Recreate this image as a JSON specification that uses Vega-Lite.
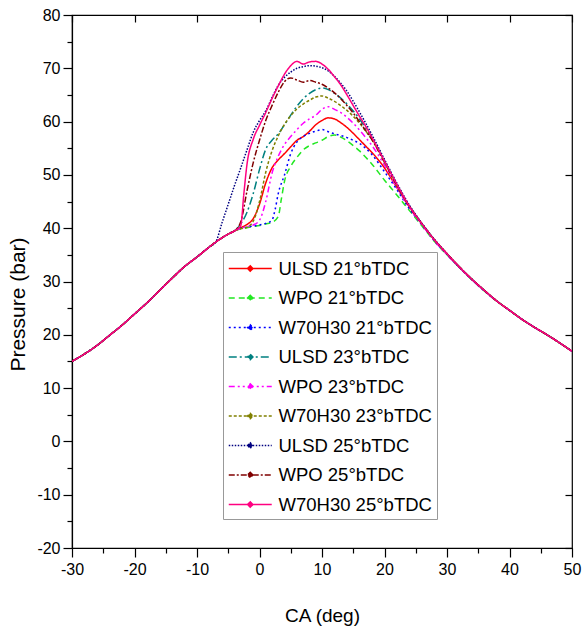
{
"$schema":"https://vega.github.io/schema/vega-lite/v6.json",
"width":500,"height":533,
"autosize":{"type":"none"},
"padding":{"left":72,"top":15,"right":11,"bottom":82},
"config":{"font":"Liberation Sans","view":{"stroke":"black","strokeWidth":1.2},
"axis":{"grid":false,"domainColor":"black","tickColor":"black","labelColor":"black","titleColor":"black","titleFontWeight":"normal","labelFontSize":16,"domainWidth":1.2,"tickWidth":1.2,"labelOverlap":false,"labelFlush":false}},
"datasets":{"d":[
{"s":"ULSD 21°bTDC","x":-30,"p":15},{"s":"ULSD 21°bTDC","x":-28,"p":16.4},{"s":"ULSD 21°bTDC","x":-26,"p":18},{"s":"ULSD 21°bTDC","x":-24,"p":19.9},{"s":"ULSD 21°bTDC","x":-22,"p":21.8},{"s":"ULSD 21°bTDC","x":-20,"p":23.9},{"s":"ULSD 21°bTDC","x":-18,"p":26},{"s":"ULSD 21°bTDC","x":-16,"p":28.3},{"s":"ULSD 21°bTDC","x":-14,"p":30.6},{"s":"ULSD 21°bTDC","x":-12,"p":32.8},{"s":"ULSD 21°bTDC","x":-10,"p":34.6},{"s":"ULSD 21°bTDC","x":-8,"p":36.5},{"s":"ULSD 21°bTDC","x":-7,"p":37.4},{"s":"ULSD 21°bTDC","x":-6,"p":38.2},{"s":"ULSD 21°bTDC","x":-5,"p":38.9},{"s":"ULSD 21°bTDC","x":-4,"p":39.5},
{"s":"ULSD 21°bTDC","x":-3,"p":40.1},{"s":"ULSD 21°bTDC","x":-2,"p":40.7},{"s":"ULSD 21°bTDC","x":-1,"p":41.8},{"s":"ULSD 21°bTDC","x":0,"p":44.5},{"s":"ULSD 21°bTDC","x":1,"p":48.5},{"s":"ULSD 21°bTDC","x":2,"p":51.3},{"s":"ULSD 21°bTDC","x":3,"p":52.8},{"s":"ULSD 21°bTDC","x":4,"p":54},{"s":"ULSD 21°bTDC","x":5,"p":55.3},{"s":"ULSD 21°bTDC","x":6,"p":56.5},{"s":"ULSD 21°bTDC","x":7,"p":57.2},{"s":"ULSD 21°bTDC","x":8,"p":58.2},{"s":"ULSD 21°bTDC","x":9,"p":59.4},{"s":"ULSD 21°bTDC","x":10,"p":60.2},{"s":"ULSD 21°bTDC","x":11,"p":60.7},{"s":"ULSD 21°bTDC","x":12,"p":60.5},{"s":"ULSD 21°bTDC","x":13,"p":59.8},{"s":"ULSD 21°bTDC","x":14,"p":58.9},{"s":"ULSD 21°bTDC","x":15,"p":57.8},{"s":"ULSD 21°bTDC","x":16,"p":56.6},{"s":"ULSD 21°bTDC","x":17,"p":55.4},{"s":"ULSD 21°bTDC","x":18,"p":54.2},{"s":"ULSD 21°bTDC","x":20,"p":51.3},{"s":"ULSD 21°bTDC","x":22,"p":47.6},{"s":"ULSD 21°bTDC","x":24,"p":44.1},
{"s":"ULSD 21°bTDC","x":26,"p":40.8},{"s":"ULSD 21°bTDC","x":28,"p":37.8},{"s":"ULSD 21°bTDC","x":30,"p":35.2},{"s":"ULSD 21°bTDC","x":32,"p":32.7},{"s":"ULSD 21°bTDC","x":34,"p":30.4},{"s":"ULSD 21°bTDC","x":36,"p":28.3},{"s":"ULSD 21°bTDC","x":38,"p":26.3},{"s":"ULSD 21°bTDC","x":40,"p":24.6},{"s":"ULSD 21°bTDC","x":42,"p":22.9},{"s":"ULSD 21°bTDC","x":44,"p":21.4},{"s":"ULSD 21°bTDC","x":46,"p":20},{"s":"ULSD 21°bTDC","x":48,"p":18.5},{"s":"ULSD 21°bTDC","x":50,"p":16.9},

{"s":"WPO 21°bTDC","x":-30,"p":15},{"s":"WPO 21°bTDC","x":-28,"p":16.4},{"s":"WPO 21°bTDC","x":-26,"p":18},{"s":"WPO 21°bTDC","x":-24,"p":19.9},{"s":"WPO 21°bTDC","x":-22,"p":21.8},{"s":"WPO 21°bTDC","x":-20,"p":23.9},{"s":"WPO 21°bTDC","x":-18,"p":26},{"s":"WPO 21°bTDC","x":-16,"p":28.3},{"s":"WPO 21°bTDC","x":-14,"p":30.6},{"s":"WPO 21°bTDC","x":-12,"p":32.8},{"s":"WPO 21°bTDC","x":-10,"p":34.6},{"s":"WPO 21°bTDC","x":-8,"p":36.5},{"s":"WPO 21°bTDC","x":-7,"p":37.4},{"s":"WPO 21°bTDC","x":-6,"p":38.2},{"s":"WPO 21°bTDC","x":-5,"p":38.9},{"s":"WPO 21°bTDC","x":-4,"p":39.5},
{"s":"WPO 21°bTDC","x":-3,"p":39.9},{"s":"WPO 21°bTDC","x":-2,"p":40.1},{"s":"WPO 21°bTDC","x":-1,"p":40.3},{"s":"WPO 21°bTDC","x":0,"p":40.5},{"s":"WPO 21°bTDC","x":1,"p":40.8},{"s":"WPO 21°bTDC","x":2,"p":41.1},{"s":"WPO 21°bTDC","x":3,"p":42.2},{"s":"WPO 21°bTDC","x":3.5,"p":45.5},{"s":"WPO 21°bTDC","x":4,"p":48.8},{"s":"WPO 21°bTDC","x":5,"p":51.6},{"s":"WPO 21°bTDC","x":6,"p":53.3},{"s":"WPO 21°bTDC","x":7,"p":54.7},{"s":"WPO 21°bTDC","x":8,"p":55.5},{"s":"WPO 21°bTDC","x":9,"p":56},{"s":"WPO 21°bTDC","x":10,"p":56.5},{"s":"WPO 21°bTDC","x":11,"p":57.2},{"s":"WPO 21°bTDC","x":12,"p":57.5},{"s":"WPO 21°bTDC","x":13,"p":57.1},{"s":"WPO 21°bTDC","x":14,"p":56.4},{"s":"WPO 21°bTDC","x":15,"p":55.5},{"s":"WPO 21°bTDC","x":16,"p":54.5},{"s":"WPO 21°bTDC","x":17,"p":53.3},{"s":"WPO 21°bTDC","x":18,"p":52},{"s":"WPO 21°bTDC","x":20,"p":49},{"s":"WPO 21°bTDC","x":22,"p":46.2},{"s":"WPO 21°bTDC","x":24,"p":43.3},
{"s":"WPO 21°bTDC","x":26,"p":40.4},{"s":"WPO 21°bTDC","x":28,"p":37.5},{"s":"WPO 21°bTDC","x":30,"p":35},{"s":"WPO 21°bTDC","x":32,"p":32.6},{"s":"WPO 21°bTDC","x":34,"p":30.3},{"s":"WPO 21°bTDC","x":36,"p":28.2},{"s":"WPO 21°bTDC","x":38,"p":26.3},{"s":"WPO 21°bTDC","x":40,"p":24.6},{"s":"WPO 21°bTDC","x":42,"p":22.9},{"s":"WPO 21°bTDC","x":44,"p":21.4},{"s":"WPO 21°bTDC","x":46,"p":20},{"s":"WPO 21°bTDC","x":48,"p":18.5},{"s":"WPO 21°bTDC","x":50,"p":16.9},

{"s":"W70H30 21°bTDC","x":-30,"p":15},{"s":"W70H30 21°bTDC","x":-28,"p":16.4},{"s":"W70H30 21°bTDC","x":-26,"p":18},{"s":"W70H30 21°bTDC","x":-24,"p":19.9},{"s":"W70H30 21°bTDC","x":-22,"p":21.8},{"s":"W70H30 21°bTDC","x":-20,"p":23.9},{"s":"W70H30 21°bTDC","x":-18,"p":26},{"s":"W70H30 21°bTDC","x":-16,"p":28.3},{"s":"W70H30 21°bTDC","x":-14,"p":30.6},{"s":"W70H30 21°bTDC","x":-12,"p":32.8},{"s":"W70H30 21°bTDC","x":-10,"p":34.6},{"s":"W70H30 21°bTDC","x":-8,"p":36.5},{"s":"W70H30 21°bTDC","x":-7,"p":37.4},{"s":"W70H30 21°bTDC","x":-6,"p":38.2},{"s":"W70H30 21°bTDC","x":-5,"p":38.9},{"s":"W70H30 21°bTDC","x":-4,"p":39.5},
{"s":"W70H30 21°bTDC","x":-3,"p":40},{"s":"W70H30 21°bTDC","x":-2,"p":40.2},{"s":"W70H30 21°bTDC","x":-1,"p":40.4},{"s":"W70H30 21°bTDC","x":0,"p":40.6},{"s":"W70H30 21°bTDC","x":1,"p":40.9},{"s":"W70H30 21°bTDC","x":2,"p":41.5},{"s":"W70H30 21°bTDC","x":2.5,"p":43.5},{"s":"W70H30 21°bTDC","x":3,"p":46.5},{"s":"W70H30 21°bTDC","x":4,"p":50},{"s":"W70H30 21°bTDC","x":5,"p":54},{"s":"W70H30 21°bTDC","x":6,"p":56.2},{"s":"W70H30 21°bTDC","x":7,"p":57.2},{"s":"W70H30 21°bTDC","x":8,"p":57.8},{"s":"W70H30 21°bTDC","x":9,"p":58.2},{"s":"W70H30 21°bTDC","x":10,"p":58.5},{"s":"W70H30 21°bTDC","x":11,"p":58.1},{"s":"W70H30 21°bTDC","x":12,"p":57.7},{"s":"W70H30 21°bTDC","x":13,"p":57.4},{"s":"W70H30 21°bTDC","x":14,"p":57},{"s":"W70H30 21°bTDC","x":15,"p":56.5},{"s":"W70H30 21°bTDC","x":16,"p":55.9},{"s":"W70H30 21°bTDC","x":17,"p":55},{"s":"W70H30 21°bTDC","x":18,"p":53.8},{"s":"W70H30 21°bTDC","x":20,"p":50.6},{"s":"W70H30 21°bTDC","x":22,"p":47.2},{"s":"W70H30 21°bTDC","x":24,"p":43.6},
{"s":"W70H30 21°bTDC","x":26,"p":40.6},{"s":"W70H30 21°bTDC","x":28,"p":37.6},{"s":"W70H30 21°bTDC","x":30,"p":35.1},{"s":"W70H30 21°bTDC","x":32,"p":32.6},{"s":"W70H30 21°bTDC","x":34,"p":30.3},{"s":"W70H30 21°bTDC","x":36,"p":28.2},{"s":"W70H30 21°bTDC","x":38,"p":26.3},{"s":"W70H30 21°bTDC","x":40,"p":24.6},{"s":"W70H30 21°bTDC","x":42,"p":22.9},{"s":"W70H30 21°bTDC","x":44,"p":21.4},{"s":"W70H30 21°bTDC","x":46,"p":20},{"s":"W70H30 21°bTDC","x":48,"p":18.5},{"s":"W70H30 21°bTDC","x":50,"p":16.9},

{"s":"ULSD 23°bTDC","x":-30,"p":15},{"s":"ULSD 23°bTDC","x":-28,"p":16.4},{"s":"ULSD 23°bTDC","x":-26,"p":18},{"s":"ULSD 23°bTDC","x":-24,"p":19.9},{"s":"ULSD 23°bTDC","x":-22,"p":21.8},{"s":"ULSD 23°bTDC","x":-20,"p":23.9},{"s":"ULSD 23°bTDC","x":-18,"p":26},{"s":"ULSD 23°bTDC","x":-16,"p":28.3},{"s":"ULSD 23°bTDC","x":-14,"p":30.6},{"s":"ULSD 23°bTDC","x":-12,"p":32.8},{"s":"ULSD 23°bTDC","x":-10,"p":34.6},{"s":"ULSD 23°bTDC","x":-8,"p":36.5},{"s":"ULSD 23°bTDC","x":-7,"p":37.4},{"s":"ULSD 23°bTDC","x":-6,"p":38.2},{"s":"ULSD 23°bTDC","x":-5,"p":38.9},{"s":"ULSD 23°bTDC","x":-4,"p":39.5},
{"s":"ULSD 23°bTDC","x":-3,"p":40.8},{"s":"ULSD 23°bTDC","x":-2,"p":43},{"s":"ULSD 23°bTDC","x":-1,"p":46.5},{"s":"ULSD 23°bTDC","x":0,"p":51},{"s":"ULSD 23°bTDC","x":1,"p":54.8},{"s":"ULSD 23°bTDC","x":2,"p":56.5},{"s":"ULSD 23°bTDC","x":3,"p":57.7},{"s":"ULSD 23°bTDC","x":4,"p":59.4},{"s":"ULSD 23°bTDC","x":5,"p":61.2},{"s":"ULSD 23°bTDC","x":6,"p":62.9},{"s":"ULSD 23°bTDC","x":7,"p":64.3},{"s":"ULSD 23°bTDC","x":8,"p":65.3},{"s":"ULSD 23°bTDC","x":9,"p":66},{"s":"ULSD 23°bTDC","x":10,"p":66.3},{"s":"ULSD 23°bTDC","x":11,"p":66},{"s":"ULSD 23°bTDC","x":12,"p":65.3},{"s":"ULSD 23°bTDC","x":13,"p":64.4},{"s":"ULSD 23°bTDC","x":14,"p":63.3},{"s":"ULSD 23°bTDC","x":15,"p":62},{"s":"ULSD 23°bTDC","x":16,"p":60.5},{"s":"ULSD 23°bTDC","x":17,"p":58.8},{"s":"ULSD 23°bTDC","x":18,"p":57},{"s":"ULSD 23°bTDC","x":20,"p":52.6},{"s":"ULSD 23°bTDC","x":22,"p":48.1},{"s":"ULSD 23°bTDC","x":24,"p":44.1},
{"s":"ULSD 23°bTDC","x":26,"p":40.8},{"s":"ULSD 23°bTDC","x":28,"p":37.8},{"s":"ULSD 23°bTDC","x":30,"p":35.2},{"s":"ULSD 23°bTDC","x":32,"p":32.7},{"s":"ULSD 23°bTDC","x":34,"p":30.4},{"s":"ULSD 23°bTDC","x":36,"p":28.3},{"s":"ULSD 23°bTDC","x":38,"p":26.3},{"s":"ULSD 23°bTDC","x":40,"p":24.6},{"s":"ULSD 23°bTDC","x":42,"p":22.9},{"s":"ULSD 23°bTDC","x":44,"p":21.4},{"s":"ULSD 23°bTDC","x":46,"p":20},{"s":"ULSD 23°bTDC","x":48,"p":18.5},{"s":"ULSD 23°bTDC","x":50,"p":16.9},

{"s":"WPO 23°bTDC","x":-30,"p":15},{"s":"WPO 23°bTDC","x":-28,"p":16.4},{"s":"WPO 23°bTDC","x":-26,"p":18},{"s":"WPO 23°bTDC","x":-24,"p":19.9},{"s":"WPO 23°bTDC","x":-22,"p":21.8},{"s":"WPO 23°bTDC","x":-20,"p":23.9},{"s":"WPO 23°bTDC","x":-18,"p":26},{"s":"WPO 23°bTDC","x":-16,"p":28.3},{"s":"WPO 23°bTDC","x":-14,"p":30.6},{"s":"WPO 23°bTDC","x":-12,"p":32.8},{"s":"WPO 23°bTDC","x":-10,"p":34.6},{"s":"WPO 23°bTDC","x":-8,"p":36.5},{"s":"WPO 23°bTDC","x":-7,"p":37.4},{"s":"WPO 23°bTDC","x":-6,"p":38.2},{"s":"WPO 23°bTDC","x":-5,"p":38.9},{"s":"WPO 23°bTDC","x":-4,"p":39.5},
{"s":"WPO 23°bTDC","x":-3,"p":40},{"s":"WPO 23°bTDC","x":-2,"p":40.3},{"s":"WPO 23°bTDC","x":-1,"p":40.6},{"s":"WPO 23°bTDC","x":0,"p":41.5},{"s":"WPO 23°bTDC","x":1,"p":45},{"s":"WPO 23°bTDC","x":2,"p":50.3},{"s":"WPO 23°bTDC","x":3,"p":53.5},{"s":"WPO 23°bTDC","x":4,"p":55.7},{"s":"WPO 23°bTDC","x":5,"p":57.2},{"s":"WPO 23°bTDC","x":6,"p":58.5},{"s":"WPO 23°bTDC","x":7,"p":59.7},{"s":"WPO 23°bTDC","x":8,"p":60.5},{"s":"WPO 23°bTDC","x":9,"p":61.2},{"s":"WPO 23°bTDC","x":10,"p":62.3},{"s":"WPO 23°bTDC","x":11,"p":62.8},{"s":"WPO 23°bTDC","x":12,"p":62.3},{"s":"WPO 23°bTDC","x":13,"p":61.7},{"s":"WPO 23°bTDC","x":14,"p":60.8},{"s":"WPO 23°bTDC","x":15,"p":59.7},{"s":"WPO 23°bTDC","x":16,"p":58.4},{"s":"WPO 23°bTDC","x":17,"p":57},{"s":"WPO 23°bTDC","x":18,"p":55.5},{"s":"WPO 23°bTDC","x":20,"p":51.8},{"s":"WPO 23°bTDC","x":22,"p":47.6},{"s":"WPO 23°bTDC","x":24,"p":43.8},
{"s":"WPO 23°bTDC","x":26,"p":40.6},{"s":"WPO 23°bTDC","x":28,"p":37.6},{"s":"WPO 23°bTDC","x":30,"p":35},{"s":"WPO 23°bTDC","x":32,"p":32.6},{"s":"WPO 23°bTDC","x":34,"p":30.3},{"s":"WPO 23°bTDC","x":36,"p":28.2},{"s":"WPO 23°bTDC","x":38,"p":26.3},{"s":"WPO 23°bTDC","x":40,"p":24.6},{"s":"WPO 23°bTDC","x":42,"p":22.9},{"s":"WPO 23°bTDC","x":44,"p":21.4},{"s":"WPO 23°bTDC","x":46,"p":20},{"s":"WPO 23°bTDC","x":48,"p":18.5},{"s":"WPO 23°bTDC","x":50,"p":16.9},

{"s":"W70H30 23°bTDC","x":-30,"p":15},{"s":"W70H30 23°bTDC","x":-28,"p":16.4},{"s":"W70H30 23°bTDC","x":-26,"p":18},{"s":"W70H30 23°bTDC","x":-24,"p":19.9},{"s":"W70H30 23°bTDC","x":-22,"p":21.8},{"s":"W70H30 23°bTDC","x":-20,"p":23.9},{"s":"W70H30 23°bTDC","x":-18,"p":26},{"s":"W70H30 23°bTDC","x":-16,"p":28.3},{"s":"W70H30 23°bTDC","x":-14,"p":30.6},{"s":"W70H30 23°bTDC","x":-12,"p":32.8},{"s":"W70H30 23°bTDC","x":-10,"p":34.6},{"s":"W70H30 23°bTDC","x":-8,"p":36.5},{"s":"W70H30 23°bTDC","x":-7,"p":37.4},{"s":"W70H30 23°bTDC","x":-6,"p":38.2},{"s":"W70H30 23°bTDC","x":-5,"p":38.9},{"s":"W70H30 23°bTDC","x":-4,"p":39.5},
{"s":"W70H30 23°bTDC","x":-3,"p":39.9},{"s":"W70H30 23°bTDC","x":-2,"p":40.2},{"s":"W70H30 23°bTDC","x":-1,"p":41.3},{"s":"W70H30 23°bTDC","x":0,"p":45},{"s":"W70H30 23°bTDC","x":1,"p":50.5},{"s":"W70H30 23°bTDC","x":2,"p":54.5},{"s":"W70H30 23°bTDC","x":3,"p":57.3},{"s":"W70H30 23°bTDC","x":4,"p":59.5},{"s":"W70H30 23°bTDC","x":5,"p":61.1},{"s":"W70H30 23°bTDC","x":6,"p":62.4},{"s":"W70H30 23°bTDC","x":7,"p":63.3},{"s":"W70H30 23°bTDC","x":8,"p":64},{"s":"W70H30 23°bTDC","x":9,"p":64.6},{"s":"W70H30 23°bTDC","x":10,"p":64.8},{"s":"W70H30 23°bTDC","x":11,"p":64.4},{"s":"W70H30 23°bTDC","x":12,"p":63.8},{"s":"W70H30 23°bTDC","x":13,"p":63},{"s":"W70H30 23°bTDC","x":14,"p":62.1},{"s":"W70H30 23°bTDC","x":15,"p":61},{"s":"W70H30 23°bTDC","x":16,"p":59.7},{"s":"W70H30 23°bTDC","x":17,"p":58.2},{"s":"W70H30 23°bTDC","x":18,"p":56.6},{"s":"W70H30 23°bTDC","x":20,"p":52.3},{"s":"W70H30 23°bTDC","x":22,"p":47.9},{"s":"W70H30 23°bTDC","x":24,"p":44},
{"s":"W70H30 23°bTDC","x":26,"p":40.8},{"s":"W70H30 23°bTDC","x":28,"p":37.8},{"s":"W70H30 23°bTDC","x":30,"p":35.2},{"s":"W70H30 23°bTDC","x":32,"p":32.7},{"s":"W70H30 23°bTDC","x":34,"p":30.4},{"s":"W70H30 23°bTDC","x":36,"p":28.3},{"s":"W70H30 23°bTDC","x":38,"p":26.3},{"s":"W70H30 23°bTDC","x":40,"p":24.6},{"s":"W70H30 23°bTDC","x":42,"p":22.9},{"s":"W70H30 23°bTDC","x":44,"p":21.4},{"s":"W70H30 23°bTDC","x":46,"p":20},{"s":"W70H30 23°bTDC","x":48,"p":18.5},{"s":"W70H30 23°bTDC","x":50,"p":16.9},

{"s":"ULSD 25°bTDC","x":-30,"p":15},{"s":"ULSD 25°bTDC","x":-28,"p":16.4},{"s":"ULSD 25°bTDC","x":-26,"p":18},{"s":"ULSD 25°bTDC","x":-24,"p":19.9},{"s":"ULSD 25°bTDC","x":-22,"p":21.8},{"s":"ULSD 25°bTDC","x":-20,"p":23.9},{"s":"ULSD 25°bTDC","x":-18,"p":26},{"s":"ULSD 25°bTDC","x":-16,"p":28.3},{"s":"ULSD 25°bTDC","x":-14,"p":30.6},{"s":"ULSD 25°bTDC","x":-12,"p":32.8},{"s":"ULSD 25°bTDC","x":-10,"p":34.6},{"s":"ULSD 25°bTDC","x":-8,"p":36.5},{"s":"ULSD 25°bTDC","x":-7,"p":37.4},
{"s":"ULSD 25°bTDC","x":-6,"p":41},{"s":"ULSD 25°bTDC","x":-5,"p":44.5},{"s":"ULSD 25°bTDC","x":-4,"p":48},{"s":"ULSD 25°bTDC","x":-3,"p":51.3},{"s":"ULSD 25°bTDC","x":-2,"p":54.7},{"s":"ULSD 25°bTDC","x":-1,"p":58},{"s":"ULSD 25°bTDC","x":0,"p":60.2},{"s":"ULSD 25°bTDC","x":1,"p":62},{"s":"ULSD 25°bTDC","x":2,"p":64.5},{"s":"ULSD 25°bTDC","x":3,"p":66.8},{"s":"ULSD 25°bTDC","x":4,"p":68.3},{"s":"ULSD 25°bTDC","x":5,"p":69.3},{"s":"ULSD 25°bTDC","x":6,"p":70},{"s":"ULSD 25°bTDC","x":7,"p":70.3},{"s":"ULSD 25°bTDC","x":8,"p":70.5},{"s":"ULSD 25°bTDC","x":9,"p":70.4},{"s":"ULSD 25°bTDC","x":10,"p":70.1},{"s":"ULSD 25°bTDC","x":11,"p":69.5},{"s":"ULSD 25°bTDC","x":12,"p":68.5},{"s":"ULSD 25°bTDC","x":13,"p":67.2},{"s":"ULSD 25°bTDC","x":14,"p":65.7},{"s":"ULSD 25°bTDC","x":15,"p":63.8},{"s":"ULSD 25°bTDC","x":16,"p":61.8},{"s":"ULSD 25°bTDC","x":17,"p":59.7},{"s":"ULSD 25°bTDC","x":18,"p":57.5},{"s":"ULSD 25°bTDC","x":20,"p":52.9},{"s":"ULSD 25°bTDC","x":22,"p":48.4},{"s":"ULSD 25°bTDC","x":24,"p":44.3},
{"s":"ULSD 25°bTDC","x":26,"p":40.9},{"s":"ULSD 25°bTDC","x":28,"p":37.9},{"s":"ULSD 25°bTDC","x":30,"p":35.2},{"s":"ULSD 25°bTDC","x":32,"p":32.7},{"s":"ULSD 25°bTDC","x":34,"p":30.4},{"s":"ULSD 25°bTDC","x":36,"p":28.3},{"s":"ULSD 25°bTDC","x":38,"p":26.3},{"s":"ULSD 25°bTDC","x":40,"p":24.6},{"s":"ULSD 25°bTDC","x":42,"p":22.9},{"s":"ULSD 25°bTDC","x":44,"p":21.4},{"s":"ULSD 25°bTDC","x":46,"p":20},{"s":"ULSD 25°bTDC","x":48,"p":18.5},{"s":"ULSD 25°bTDC","x":50,"p":16.9},

{"s":"WPO 25°bTDC","x":-30,"p":15},{"s":"WPO 25°bTDC","x":-28,"p":16.4},{"s":"WPO 25°bTDC","x":-26,"p":18},{"s":"WPO 25°bTDC","x":-24,"p":19.9},{"s":"WPO 25°bTDC","x":-22,"p":21.8},{"s":"WPO 25°bTDC","x":-20,"p":23.9},{"s":"WPO 25°bTDC","x":-18,"p":26},{"s":"WPO 25°bTDC","x":-16,"p":28.3},{"s":"WPO 25°bTDC","x":-14,"p":30.6},{"s":"WPO 25°bTDC","x":-12,"p":32.8},{"s":"WPO 25°bTDC","x":-10,"p":34.6},{"s":"WPO 25°bTDC","x":-8,"p":36.5},{"s":"WPO 25°bTDC","x":-7,"p":37.4},{"s":"WPO 25°bTDC","x":-6,"p":38.2},{"s":"WPO 25°bTDC","x":-5,"p":38.9},{"s":"WPO 25°bTDC","x":-4,"p":39.5},
{"s":"WPO 25°bTDC","x":-3,"p":41.2},{"s":"WPO 25°bTDC","x":-2,"p":47},{"s":"WPO 25°bTDC","x":-1,"p":52.3},{"s":"WPO 25°bTDC","x":0,"p":56.5},{"s":"WPO 25°bTDC","x":1,"p":60.2},{"s":"WPO 25°bTDC","x":2,"p":63},{"s":"WPO 25°bTDC","x":3,"p":65.5},{"s":"WPO 25°bTDC","x":4,"p":67.5},{"s":"WPO 25°bTDC","x":5,"p":68.2},{"s":"WPO 25°bTDC","x":6,"p":67.8},{"s":"WPO 25°bTDC","x":7,"p":67.4},{"s":"WPO 25°bTDC","x":8,"p":67.7},{"s":"WPO 25°bTDC","x":9,"p":67.4},{"s":"WPO 25°bTDC","x":10,"p":67},{"s":"WPO 25°bTDC","x":11,"p":66.3},{"s":"WPO 25°bTDC","x":12,"p":65.4},{"s":"WPO 25°bTDC","x":13,"p":64.3},{"s":"WPO 25°bTDC","x":14,"p":63},{"s":"WPO 25°bTDC","x":15,"p":61.6},{"s":"WPO 25°bTDC","x":16,"p":60},{"s":"WPO 25°bTDC","x":17,"p":58.3},{"s":"WPO 25°bTDC","x":18,"p":56.6},{"s":"WPO 25°bTDC","x":20,"p":52.4},{"s":"WPO 25°bTDC","x":22,"p":48},{"s":"WPO 25°bTDC","x":24,"p":44},
{"s":"WPO 25°bTDC","x":26,"p":40.8},{"s":"WPO 25°bTDC","x":28,"p":37.8},{"s":"WPO 25°bTDC","x":30,"p":35.2},{"s":"WPO 25°bTDC","x":32,"p":32.7},{"s":"WPO 25°bTDC","x":34,"p":30.4},{"s":"WPO 25°bTDC","x":36,"p":28.3},{"s":"WPO 25°bTDC","x":38,"p":26.3},{"s":"WPO 25°bTDC","x":40,"p":24.6},{"s":"WPO 25°bTDC","x":42,"p":22.9},{"s":"WPO 25°bTDC","x":44,"p":21.4},{"s":"WPO 25°bTDC","x":46,"p":20},{"s":"WPO 25°bTDC","x":48,"p":18.5},{"s":"WPO 25°bTDC","x":50,"p":16.9},

{"s":"W70H30 25°bTDC","x":-30,"p":15},{"s":"W70H30 25°bTDC","x":-28,"p":16.4},{"s":"W70H30 25°bTDC","x":-26,"p":18},{"s":"W70H30 25°bTDC","x":-24,"p":19.9},{"s":"W70H30 25°bTDC","x":-22,"p":21.8},{"s":"W70H30 25°bTDC","x":-20,"p":23.9},{"s":"W70H30 25°bTDC","x":-18,"p":26},{"s":"W70H30 25°bTDC","x":-16,"p":28.3},{"s":"W70H30 25°bTDC","x":-14,"p":30.6},{"s":"W70H30 25°bTDC","x":-12,"p":32.8},{"s":"W70H30 25°bTDC","x":-10,"p":34.6},{"s":"W70H30 25°bTDC","x":-8,"p":36.5},{"s":"W70H30 25°bTDC","x":-7,"p":37.4},{"s":"W70H30 25°bTDC","x":-6,"p":38.2},{"s":"W70H30 25°bTDC","x":-5,"p":38.9},{"s":"W70H30 25°bTDC","x":-4,"p":39.5},
{"s":"W70H30 25°bTDC","x":-3,"p":40.5},{"s":"W70H30 25°bTDC","x":-2.5,"p":46.5},{"s":"W70H30 25°bTDC","x":-2,"p":52},{"s":"W70H30 25°bTDC","x":-1,"p":56.7},{"s":"W70H30 25°bTDC","x":0,"p":59.3},{"s":"W70H30 25°bTDC","x":1,"p":61.7},{"s":"W70H30 25°bTDC","x":2,"p":64.3},{"s":"W70H30 25°bTDC","x":3,"p":66.7},{"s":"W70H30 25°bTDC","x":4,"p":68.9},{"s":"W70H30 25°bTDC","x":5,"p":70.5},{"s":"W70H30 25°bTDC","x":6,"p":71.3},{"s":"W70H30 25°bTDC","x":7,"p":70.8},{"s":"W70H30 25°bTDC","x":8,"p":71.2},{"s":"W70H30 25°bTDC","x":9,"p":71.3},{"s":"W70H30 25°bTDC","x":10,"p":70.8},{"s":"W70H30 25°bTDC","x":11,"p":69.8},{"s":"W70H30 25°bTDC","x":12,"p":68.4},{"s":"W70H30 25°bTDC","x":13,"p":66.9},{"s":"W70H30 25°bTDC","x":14,"p":65},{"s":"W70H30 25°bTDC","x":15,"p":63},{"s":"W70H30 25°bTDC","x":16,"p":61},{"s":"W70H30 25°bTDC","x":17,"p":59.1},{"s":"W70H30 25°bTDC","x":18,"p":57},{"s":"W70H30 25°bTDC","x":20,"p":52.6},{"s":"W70H30 25°bTDC","x":22,"p":48.2},{"s":"W70H30 25°bTDC","x":24,"p":44.1},
{"s":"W70H30 25°bTDC","x":26,"p":40.8},{"s":"W70H30 25°bTDC","x":28,"p":37.8},{"s":"W70H30 25°bTDC","x":30,"p":35.2},{"s":"W70H30 25°bTDC","x":32,"p":32.7},{"s":"W70H30 25°bTDC","x":34,"p":30.4},{"s":"W70H30 25°bTDC","x":36,"p":28.3},{"s":"W70H30 25°bTDC","x":38,"p":26.3},{"s":"W70H30 25°bTDC","x":40,"p":24.6},{"s":"W70H30 25°bTDC","x":42,"p":22.9},{"s":"W70H30 25°bTDC","x":44,"p":21.4},{"s":"W70H30 25°bTDC","x":46,"p":20},{"s":"W70H30 25°bTDC","x":48,"p":18.5},{"s":"W70H30 25°bTDC","x":50,"p":16.9}
]},
"data":{"name":"d"},
"layer":[
{"mark":{"type":"line","interpolate":"monotone","strokeWidth":1.5,"clip":true},
"encoding":{
"x":{"field":"x","type":"quantitative","scale":{"domain":[-30,50],"nice":false,"zero":false},
"axis":{"orient":"bottom","values":[-30,-25,-20,-15,-10,-5,0,5,10,15,20,25,30,35,40,45,50],"labelExpr":"datum.value % 10 === 0 ? '' + datum.value : ''","tickSize":{"condition":{"test":"datum.value % 10 === 0","value":9},"value":5},"labelPadding":4,"title":"CA (deg)","titleFontSize":19,"titlePadding":29}},
"y":{"field":"p","type":"quantitative","scale":{"domain":[-20,80],"nice":false,"zero":false},
"axis":{"orient":"left","values":[-20,-15,-10,-5,0,5,10,15,20,25,30,35,40,45,50,55,60,65,70,75,80],"labelExpr":"datum.value % 10 === 0 ? '' + datum.value : ''","tickSize":{"condition":{"test":"datum.value % 10 === 0","value":9},"value":5},"labelPadding":3,"title":"Pressure (bar)","titleFontSize":21,"titleX":-54,"titleY":289,"titleBaseline":"middle","titleAngle":-90}},
"color":{"field":"s","type":"nominal","title":null,
"scale":{"domain":["ULSD 21°bTDC","WPO 21°bTDC","W70H30 21°bTDC","ULSD 23°bTDC","WPO 23°bTDC","W70H30 23°bTDC","ULSD 25°bTDC","WPO 25°bTDC","W70H30 25°bTDC"],
"range":["#ff0000","#22e822","#0000ff","#008080","#ff00ff","#808000","#000080","#800000","#ff0080"]},
"legend":{"orient":"none","legendX":151,"legendY":237,"title":null,"labelFontSize":18.5,"labelColor":"black","symbolType":"M-1,0H3M1,-0.25L1.25,0L1,0.25L0.75,0Z","symbolSize":462,"symbolStrokeWidth":1.5,"labelOffset":27.5,"rowPadding":8.5,"padding":5,"strokeColor":"#999999","fillColor":"white","labelLimit":300,
"encode":{"symbols":{"update":{"fill":{"scale":"color","field":"value"}}}}}},
"strokeDash":{"field":"s","type":"nominal","title":null,
"scale":{"domain":["ULSD 21°bTDC","WPO 21°bTDC","W70H30 21°bTDC","ULSD 23°bTDC","WPO 23°bTDC","W70H30 23°bTDC","ULSD 25°bTDC","WPO 25°bTDC","W70H30 25°bTDC"],
"range":[[1,0],[6,4],[2,3],[8,3,2,3],[6,3,2,3,2,3],[3,2],[1.5,1.5],[6,2,2,2],[1,0]]},
"legend":{"orient":"none","legendX":151,"legendY":237,"title":null}}
}},
{"mark":{"type":"point","opacity":0},
"encoding":{
"x":{"field":"x","type":"quantitative","axis":{"orient":"top","values":[-30,-20,-10,0,10,20,30,40,50],"labels":false,"tickSize":7,"offset":-7,"domain":false,"title":null}},
"y":{"field":"p","type":"quantitative","axis":{"orient":"right","values":[-20,-10,0,10,20,30,40,50,60,70,80],"labels":false,"tickSize":7,"offset":-7,"domain":false,"title":null}}
}}
],
"resolve":{"axis":{"x":"independent","y":"independent"}}
}
